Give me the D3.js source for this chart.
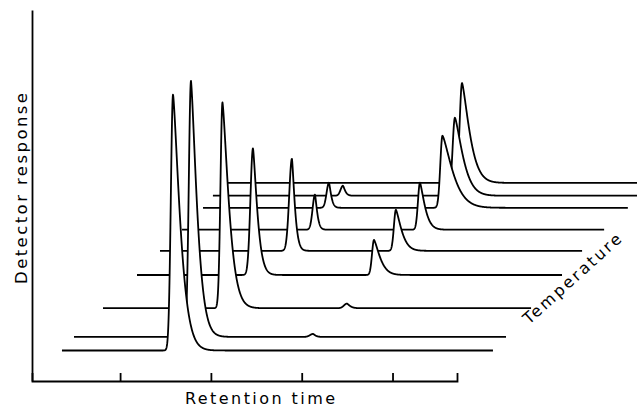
<!DOCTYPE html>
<html>
<head>
<meta charset="utf-8">
<script src="https://cdn.jsdelivr.net/npm/d3@7"></script>
<style>
  body { margin: 0; background: #fff; }
  text { font-family: "DejaVu Sans", sans-serif; fill: #000; }
</style>
</head>
<body>
<script>
// Chromatograms at increasing column temperature (front = lowest)
const temperatures = [0, 0.9, 2.8, 5.0, 6.6, 8.0, 9.45, 10.25, 11.1];
const traceStart   = [0.360, 0.343, 0.346, 0.355, 0.342, 0.352, 0.342, 0.318, 0.343];
const traceEnd     = [5.106, 5.100, 5.060, 5.035, 4.990, 5.000, 5.020, 5.100, 5.100];

// first (early) peak: retention time, height, left / right width
const peakATime   = [1.583, 1.631, 1.662, 1.632, 1.795, 1.816, 1.729, 1.750, 1.760];
const peakAHeight = [94.8, 94.8, 76.2, 46.9, 34.1, 13.0, 9.3, 3.7, 0];
const peakAWidthL = [0.024, 0.024, 0.022, 0.028, 0.030, 0.026, 0.026, 0.026, 0.026];
const peakAWidthR = [0.105, 0.090, 0.095, 0.064, 0.042, 0.032, 0.032, 0.032, 0.032];

// second (late) peak
const peakBTime   = [2.975, 2.975, 3.033, 2.965, 2.940, 2.972, 2.979, 2.983, 2.920];
const peakBHeight = [0, 1.1, 1.7, 13.0, 15.2, 17.4, 26.7, 28.9, 37.0];
const peakBWidthL = [0.033, 0.033, 0.033, 0.022, 0.022, 0.022, 0.024, 0.026, 0.026];
const peakBWidthR = [0.033, 0.033, 0.044, 0.088, 0.083, 0.072, 0.150, 0.118, 0.112];

const retentionTicks = [1, 2, 3, 4];

let width = 637,
    height = 409;

let svg = d3.select('body')
            .append('svg')
            .attr('width', width)
            .attr('height', height)
            .style('background', '#fff');

// scales
const xScale = d3.scaleLinear()
                 .domain([0.03, 4.71])
                 .range([32, 457]);

const yScale = d3.scaleLinear()
                 .domain([-11.3, 126.1])
                 .range([381, 10]);

// temperature pushes each trace back along a 45 degree oblique
const depthScale = d3.scaleLinear()
                     .domain([0, 11.1])
                     .range([0, 167.6]);

// tailing peak: gaussian front, stretched-exponential tail
function peak(t, t0, h, wl, wr) {
    if (!h) return 0;
    const d = t - t0;
    if (d < 0) return h * Math.exp(-0.5 * (d / wl) * (d / wl));
    return h * Math.exp(-Math.pow(d / wr, 1.35));
}

const traces = temperatures.map((temp, i) => {
    const times = d3.range(traceStart[i], traceEnd[i], 0.002).concat([traceEnd[i]]);
    return {
        depth: depthScale(temp),
        values: times.map(t => ({
            t: t,
            v: peak(t, peakATime[i], peakAHeight[i], peakAWidthL[i], peakAWidthR[i]) +
               peak(t, peakBTime[i], peakBHeight[i], peakBWidthL[i], peakBWidthR[i])
        }))
    };
});

// draw back to front, white fill hides what lies behind each peak
const traceG = svg.append('g');
traces.slice().reverse().forEach(tr => {
    const dz = tr.depth;
    const area = d3.area()
                   .x(p => xScale(p.t) + dz)
                   .y0(yScale(0) - dz + 0.5)
                   .y1(p => yScale(p.v) - dz);
    const line = d3.line()
                   .x(p => xScale(p.t) + dz)
                   .y(p => yScale(p.v) - dz);

    traceG.append('path')
          .attr('d', area(tr.values))
          .attr('fill', '#fff')
          .attr('stroke', 'none');

    traceG.append('path')
          .attr('d', line(tr.values))
          .attr('fill', 'none')
          .attr('stroke', '#000')
          .attr('stroke-width', 1.8)
          .attr('stroke-linejoin', 'round');
});

// axes
let xAxis = svg.append('g')
               .attr('transform', `translate(0, ${yScale(yScale.domain()[0])})`)
               .call(d3.axisBottom(xScale)
                       .tickValues(retentionTicks)
                       .tickSize(-8)
                       .tickSizeOuter(-8)
                       .tickFormat(''));

let yAxis = svg.append('g')
               .attr('transform', `translate(${xScale(xScale.domain()[0])}, 0)`)
               .call(d3.axisLeft(yScale)
                       .tickValues([])
                       .tickSizeOuter(0));

svg.selectAll('.domain, .tick line')
   .attr('stroke', '#000')
   .attr('stroke-width', 1.8);

// labels
svg.append('text')
   .attr('x', 260)
   .attr('y', 404)
   .attr('text-anchor', 'middle')
   .attr('font-size', 16)
   .attr('textLength', 150)
   .attr('lengthAdjust', 'spacing')
   .text('Retention time');

svg.append('text')
   .attr('transform', 'translate(27, 188.5) rotate(-90)')
   .attr('text-anchor', 'middle')
   .attr('font-size', 16.5)
   .attr('textLength', 191)
   .attr('lengthAdjust', 'spacing')
   .text('Detector response');

svg.append('text')
   .attr('transform', 'translate(529, 325) rotate(-42)')
   .attr('text-anchor', 'start')
   .attr('font-size', 16)
   .attr('textLength', 126)
   .attr('lengthAdjust', 'spacing')
   .text('Temperature');
</script>
</body>
</html>
